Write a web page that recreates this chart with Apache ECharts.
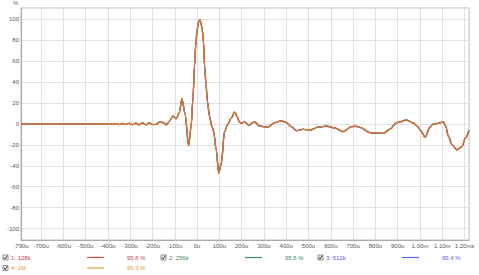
<!DOCTYPE html>
<html><head><meta charset="utf-8">
<script src="https://cdn.jsdelivr.net/npm/echarts@6/dist/echarts.min.js"></script>
<style>html,body{margin:0;padding:0;background:#fff}#c{width:479px;height:275px}</style>
</head><body><div id="c"></div>
<script>
// time in microseconds
const times = [-790,-750,-700,-650,-600,-550,-500,-470,-450,-425,-410,-395,-380,-365,-350,-335,-320,-305,-290,-275,-260,-245,-230,-215,-200,-186,-165,-150,-138,-125,-108,-93,-80,-68,-54,-38,-27,-18,-12,-6,0,6,12,22,28,34,40,46,56,66,74,86,97,109,123,138,153,168,180,189,198,213,232,258,280,300,318,348,378,400,423,446,476,505,543,580,620,655,693,715,735,775,835,865,895,940,970,990,1005,1023,1045,1060,1083,1105,1115,1128,1145,1166,1188,1205,1220];
const values = [0,0.2,0,0.2,0,0.2,0,0.2,0,0.4,-0.3,0.5,-0.4,0.5,-0.5,0.6,-0.5,0.7,-0.6,0.8,-0.7,1,-0.8,1.1,-0.5,-0.5,2.3,1.2,-0.8,2.5,7.5,5,11,24,10,-20.7,-2.5,26,55,75,90,97,100,93,80,55,38,22,7,-2,-7,-25,-47,-37.5,-7.3,0,5.4,11.5,7,2,0.7,2,-1,2,-2,-2.5,-3,1.3,3,1.5,-2.5,-6.4,-5,-6,-3,-2,-4,-7.3,-2.5,-2.2,-3.5,-8.3,-9,-5,1.3,3.8,1,-2.5,-7,-12.7,-3,0,0.6,2.2,-2,-12,-20,-24.8,-21.7,-13,-5.7];

const seriesNames = ['1: 128k','2: 256k','3: 512k','4: 1M'];
const seriesPct = ['95.6 %','95.5 %','95.4 %','95.3 %'];
const lineColors = ['#d94a4a','#3a8a5a','#6060f0','#f0a040'];
const plotColors = ['#c84040','#3a8a5a','#6060f0','#dc7726'];
const textColors = ['#d04040','#3a8a5a','#5a5aee','#f0962e'];

const xMin = -790, xMax = 1220, yMin = -111, yMax = 111;

function xfmt(v){
  if (v === 1200) return '1.20ms';
  if (v >= 1000) return (v/1000).toFixed(2) + 'm';
  return v + 'u';
}

const pts = times.map((t,i)=>[t, values[i]]);
const series = seriesNames.map((n,i)=>({
  name: n, type: 'line', data: pts, showSymbol: false, smooth: 0.3, smoothMonotone: 'x',
  lineStyle: {color: plotColors[i], width: i===3 ? 1.4 : 1.2},
  itemStyle: {color: plotColors[i]}, animation: false, z: 2+i
}));

const font = 'Liberation Sans, Arial, sans-serif';
const graphic = [{type:'text', left: 13, top: 0, style:{text:'%', font:'6px '+font, fill:'#666'}}];
const legendRows = [
  {y: 257.5, items: [[3,0],[161,1],[318,2]]},
  {y: 268, items: [[3,3]]}
];
legendRows.forEach(r=>{
  r.items.forEach(([x,i])=>{
    graphic.push({type:'rect', shape:{x:x, y:r.y-2.5, width:5, height:5}, style:{fill:'#f4f4f4', stroke:'#777', lineWidth:0.8}});
    graphic.push({type:'polyline', shape:{points:[[x+1,r.y-0.2],[x+2.2,r.y+1.5],[x+4.3,r.y-1.8]]}, style:{stroke:'#222', lineWidth:0.9, fill:null}});
    graphic.push({type:'text', x: x+8, y: r.y, style:{text: seriesNames[i], font:'6px '+font, fill:textColors[i], verticalAlign:'middle'}});
    graphic.push({type:'line', shape:{x1:x+84, y1:r.y, x2:x+101, y2:r.y}, style:{stroke:lineColors[i], lineWidth:1.2}});
    graphic.push({type:'text', x: x+124, y: r.y, style:{text: seriesPct[i], font:'6px '+font, fill:textColors[i], verticalAlign:'middle'}});
  });
});

const chart = echarts.init(document.getElementById('c'), null, {renderer:'svg'});
chart.setOption({
  animation: false,
  backgroundColor: '#fff',
  grid: {left: 21, right: 10, top: 8, bottom: 35, show: true, borderColor: '#b8b8b8', borderWidth: 1},
  xAxis: {
    type: 'value', min: xMin, max: xMax, minInterval: 100, maxInterval: 100, splitNumber: 20,
    axisLine: {show: true, onZero: false, lineStyle: {color: '#aaa'}},
    axisTick: {show: false},
    axisLabel: {formatter: xfmt, fontSize: 6, fontFamily: font, color: '#555', margin: 3, showMinLabel: true, showMaxLabel: false, hideOverlap: false},
    splitLine: {show: true, lineStyle: {color: '#e0e0e0', width: 1}}
  },
  yAxis: {
    type: 'value', min: yMin, max: yMax, minInterval: 20, maxInterval: 20,
    axisLine: {show: true, onZero: false, lineStyle: {color: '#aaa'}},
    axisTick: {show: false},
    axisLabel: {fontSize: 6, fontFamily: font, color: '#555', margin: 2, showMinLabel: false, showMaxLabel: false},
    splitLine: {show: true, lineStyle: {color: '#e0e0e0', width: 1}}
  },
  graphic: graphic,
  series: series
});
</script></body></html>
